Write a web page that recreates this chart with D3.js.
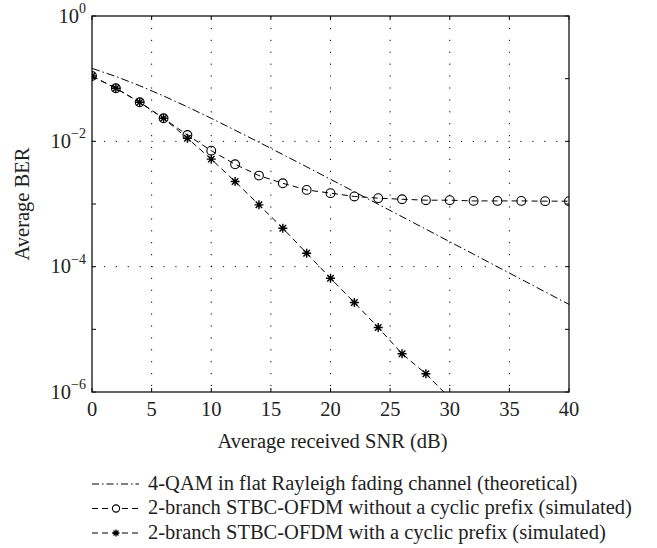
<!DOCTYPE html>
<html>
<head>
<meta charset="utf-8">
<script src="https://cdn.jsdelivr.net/npm/d3@7"></script>
<style>
  body { margin: 0; background: #fff; overflow: hidden; }
  svg { display: block; }
  text { font-family: "Liberation Serif", "DejaVu Serif", serif; fill: #222; }
</style>
</head>
<body>
<svg id="canvas"></svg>
<script>
// SNR values (dB)
const snrTheory = [0, 2, 4, 6, 8, 10, 12, 14, 16, 18, 20, 22, 24, 26, 28, 30, 32, 34, 36, 38, 40];
const berTheory = [0.146, 0.1085, 0.0771, 0.053, 0.0355, 0.0233, 0.01505, 0.00967, 0.00616, 0.00392, 0.00248,
  0.00157, 0.00099, 0.000627, 0.000396, 0.00025, 0.000158, 0.0000995, 0.0000628, 0.0000396, 0.000025];

const snrNoCP = [0, 2, 4, 6, 8, 10, 12, 14, 16, 18, 20, 22, 24, 26, 28, 30, 32, 34, 36, 38, 40];
const berNoCP = [0.110, 0.0703, 0.042, 0.0233, 0.0126, 0.0071, 0.0043, 0.00284, 0.00214, 0.00168, 0.00149,
  0.00132, 0.00124, 0.00119, 0.00115, 0.00115, 0.00112, 0.00112, 0.00112, 0.00111, 0.00111];

const snrCP = [0, 2, 4, 6, 8, 10, 12, 14, 16, 18, 20, 22, 24, 26, 28, 30];
const berCP = [0.110, 0.0703, 0.042, 0.0233, 0.0112, 0.0052, 0.00228, 0.00097, 0.000411, 0.000164, 0.0000655,
  0.0000268, 0.0000107, 0.00000407, 0.00000195, 0.0000008];

const xTicks = [0, 5, 10, 15, 20, 25, 30, 35, 40];
const yLabelExps = [0, -2, -4, -6];
const yTickExps = [0, -1, -2, -3, -4, -5, -6];
const legendLabels = [
  "4-QAM in flat Rayleigh fading channel (theoretical)",
  "2-branch STBC-OFDM without a cyclic prefix (simulated)",
  "2-branch STBC-OFDM with a cyclic prefix (simulated)"
];

const width = 657;
const height = 548;
const margin = { top: 16, right: 88, bottom: 156, left: 92 };
const innerWidth = width - margin.left - margin.right;
const innerHeight = height - margin.top - margin.bottom;
const fontSize = "20.5px";

const svg = d3.select("#canvas").attr("width", width).attr("height", height);

const xScale = d3.scaleLinear().domain([0, 40]).range([0, innerWidth]);
const yScale = d3.scaleLog().domain([1e-6, 1]).range([innerHeight, 0]);

const plot = svg.append("g").attr("transform", `translate(${margin.left}, ${margin.top})`);

plot.append("clipPath").attr("id", "clip")
  .append("rect").attr("width", innerWidth).attr("height", innerHeight);

// grid
const gridGroup = plot.append("g").classed("grid", true);
gridGroup.selectAll("line.vgrid")
  .data(xTicks.slice(1, -1))
  .join("line")
  .attr("x1", d => xScale(d)).attr("x2", d => xScale(d))
  .attr("y1", 0).attr("y2", innerHeight)
  .attr("stroke", "#000").attr("stroke-width", 1)
  .attr("stroke-dasharray", "1.2,10.7");
gridGroup.selectAll("line.hgrid")
  .data(yLabelExps.slice(1, -1))
  .join("line")
  .attr("x1", 0).attr("x2", innerWidth)
  .attr("y1", d => yScale(Math.pow(10, d))).attr("y2", d => yScale(Math.pow(10, d)))
  .attr("stroke", "#000").attr("stroke-width", 1)
  .attr("stroke-dasharray", "1.2,10.7");

// ticks (inward, all four sides)
const tickLen = 4;
const tickGroup = plot.append("g").classed("ticks", true).attr("stroke", "#000").attr("stroke-width", 1);
xTicks.forEach(t => {
  tickGroup.append("line").attr("x1", xScale(t)).attr("x2", xScale(t)).attr("y1", innerHeight).attr("y2", innerHeight - tickLen);
  tickGroup.append("line").attr("x1", xScale(t)).attr("x2", xScale(t)).attr("y1", 0).attr("y2", tickLen);
});
yTickExps.forEach(e => {
  const y = yScale(Math.pow(10, e));
  tickGroup.append("line").attr("x1", 0).attr("x2", tickLen).attr("y1", y).attr("y2", y);
  tickGroup.append("line").attr("x1", innerWidth).attr("x2", innerWidth - tickLen).attr("y1", y).attr("y2", y);
});

// frame
plot.append("rect")
  .attr("width", innerWidth).attr("height", innerHeight)
  .attr("fill", "none").attr("stroke", "#111").attr("stroke-width", 1.3);

// x tick labels
plot.append("g").selectAll("text")
  .data(xTicks)
  .join("text")
  .attr("x", d => xScale(d))
  .attr("y", innerHeight + 24)
  .attr("text-anchor", "middle")
  .style("font-size", fontSize)
  .text(d => d);

// y tick labels 10^n
const yLab = plot.append("g").selectAll("text")
  .data(yLabelExps)
  .join("text")
  .attr("x", -6)
  .attr("y", d => yScale(Math.pow(10, d)) + 6.5)
  .attr("text-anchor", "end")
  .style("font-size", fontSize);
yLab.append("tspan").text("10");
yLab.append("tspan")
  .attr("dy", -9.5)
  .style("font-size", "14px")
  .text(d => d === 0 ? "0" : "\u2212" + Math.abs(d));

// axis titles
svg.append("text")
  .attr("x", margin.left + innerWidth / 2 + 2)
  .attr("y", 448)
  .attr("text-anchor", "middle")
  .style("font-size", fontSize)
  .text("Average received SNR (dB)");
svg.append("text")
  .attr("transform", `translate(29, ${margin.top + innerHeight / 2}) rotate(-90)`)
  .attr("text-anchor", "middle")
  .style("font-size", fontSize)
  .text("Average BER");

// series
const line = d3.line().x(d => xScale(d[0])).y(d => yScale(d[1]));
const dataGroup = plot.append("g").attr("clip-path", "url(#clip)");

const theory = snrTheory.map((s, i) => [s, berTheory[i]]);
const noCP = snrNoCP.map((s, i) => [s, berNoCP[i]]);
const withCP = snrCP.map((s, i) => [s, berCP[i]]);

const dashDot = "8,3,1.5,3";
const dashed = "6,4";

dataGroup.append("path").datum(theory)
  .attr("d", line).attr("fill", "none").attr("stroke", "#000").attr("stroke-width", 1)
  .attr("stroke-dasharray", dashDot);
dataGroup.append("path").datum(noCP)
  .attr("d", line).attr("fill", "none").attr("stroke", "#000").attr("stroke-width", 1)
  .attr("stroke-dasharray", dashed);
dataGroup.append("path").datum(withCP)
  .attr("d", line).attr("fill", "none").attr("stroke", "#000").attr("stroke-width", 1)
  .attr("stroke-dasharray", dashed);

function starPath(s) {
  const d = s * 0.72;
  return `M${-s},0H${s}M0,${-s}V${s}M${-d},${-d}L${d},${d}M${-d},${d}L${d},${-d}`;
}

dataGroup.selectAll("circle.m")
  .data(noCP)
  .join("circle")
  .attr("cx", d => xScale(d[0])).attr("cy", d => yScale(d[1]))
  .attr("r", 4.4)
  .attr("fill", "none").attr("stroke", "#000").attr("stroke-width", 1.1);

dataGroup.selectAll("path.star")
  .data(withCP.filter(d => d[1] >= 1e-6))
  .join("path")
  .attr("transform", d => `translate(${xScale(d[0])}, ${yScale(d[1])})`)
  .attr("d", starPath(4.5))
  .attr("fill", "none").attr("stroke", "#000").attr("stroke-width", 1.4);

// legend
const legendRows = [484, 508.5, 533];
const legend = svg.append("g").classed("legend", true);
legendLabels.forEach((label, i) => {
  const y = legendRows[i];
  legend.append("line")
    .attr("x1", 92).attr("x2", 139).attr("y1", y).attr("y2", y)
    .attr("stroke", "#000").attr("stroke-width", 1)
    .attr("stroke-dasharray", i === 0 ? "7,3,1.5,3" : "6,4");
  if (i === 1) {
    legend.append("circle").attr("cx", 116).attr("cy", y).attr("r", 3.6)
      .attr("fill", "#fff").attr("stroke", "#000").attr("stroke-width", 1.1);
  } else if (i === 2) {
    legend.append("path").attr("transform", `translate(116, ${y})`).attr("d", starPath(3.5))
      .attr("stroke", "#000").attr("stroke-width", 1.3);
  }
  legend.append("text")
    .attr("x", 148).attr("y", y + 5.5)
    .style("font-size", fontSize)
    .text(label);
});
</script>
</body>
</html>
